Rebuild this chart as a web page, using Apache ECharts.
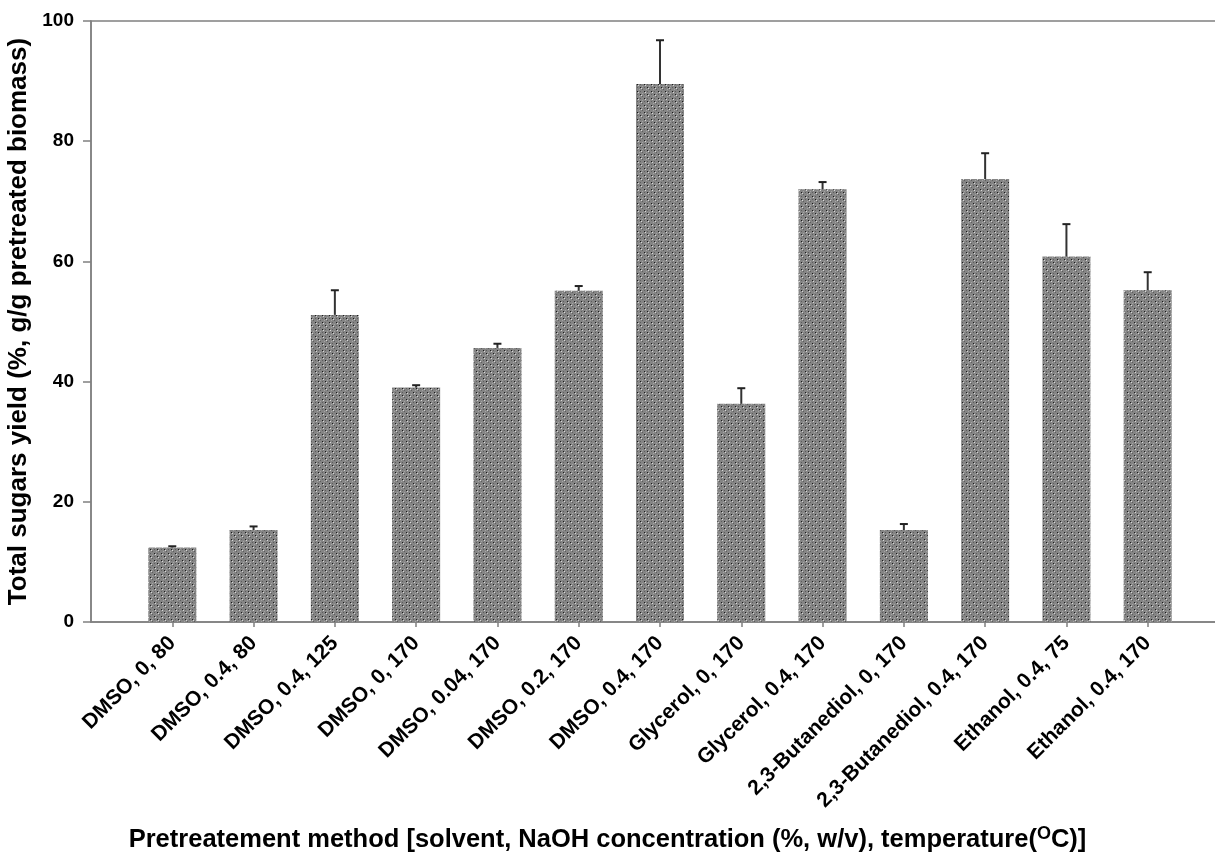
<!DOCTYPE html>
<html>
<head>
<meta charset="utf-8">
<script src="https://cdn.jsdelivr.net/npm/echarts@6/dist/echarts.min.js"></script>
<style>
  html, body { margin: 0; padding: 0; background: #fff; }
  #chart { width: 1215px; height: 860px; }
</style>
</head>
<body>
<div id="chart"></div>
<script>
// Pretreatment conditions: solvent, NaOH concentration (%, w/v), temperature (°C)
const categories = [
  'DMSO, 0, 80', 'DMSO, 0.4, 80', 'DMSO, 0.4, 125', 'DMSO, 0, 170',
  'DMSO, 0.04, 170', 'DMSO, 0.2, 170', 'DMSO, 0.4, 170', 'Glycerol, 0, 170',
  'Glycerol, 0.4, 170', '2,3-Butanediol, 0, 170', '2,3-Butanediol, 0.4, 170',
  'Ethanol, 0.4, 75', 'Ethanol, 0.4, 170'
];
// Total sugars yield (%) and its standard deviation
const yieldValues = [12.4, 15.3, 51.1, 39.0, 45.6, 55.1, 89.5, 36.3, 72.0, 15.3, 73.7, 60.8, 55.2];
const yieldErrors = [0.2, 0.6, 4.1, 0.4, 0.7, 0.8, 7.3, 2.6, 1.2, 1.0, 4.3, 5.4, 3.0];
const yTicks = [0, 20, 40, 60, 80, 100];

// Stippled grey fill for the bars
function stipple() {
  const n = 7;
  const c = document.createElement('canvas');
  c.width = n; c.height = n;
  const g = c.getContext('2d');
  g.fillStyle = '#858585';
  g.fillRect(0, 0, n, n);
  // dark dots
  g.fillStyle = '#1a1a1a';
  g.fillRect(0, 0, 1, 1);
  g.fillRect(3, 3, 1, 1);
  // light specks next to them
  g.fillStyle = '#d8d8d8';
  g.fillRect(1, 1, 1, 1);
  g.fillRect(4, 4, 1, 1);
  // mid-grey pattern dots
  g.fillStyle = '#5e5e5e';
  g.fillRect(3, 0, 1, 1);
  g.fillRect(0, 3, 1, 1);
  g.fillRect(5, 5, 1, 1);
  g.fillStyle = '#a4a4a4';
  g.fillRect(5, 2, 1, 1);
  g.fillRect(2, 5, 1, 1);
  return c;
}

// Category slots with an empty slot at each end of the axis
const axisSlots = [''].concat(categories, ['']);
const barData = yieldValues.map((v, i) => [i + 1, v]);
const errData = yieldValues.map((v, i) => [i + 1, v, yieldErrors[i]]);

const chart = echarts.init(document.getElementById('chart'), null, { renderer: 'canvas' });
const font = 'Arial, "Liberation Sans", sans-serif';

chart.setOption({
  animation: false,
  backgroundColor: '#ffffff',
  grid: {
    left: 91, width: 1138, top: 21, height: 601,
    outerBoundsMode: 'none', containLabel: false,
    show: true, borderColor: '#808080', borderWidth: 1.5, backgroundColor: 'transparent'
  },
  xAxis: {
    type: 'category',
    data: axisSlots,
    boundaryGap: false,
    axisLine: { lineStyle: { color: '#808080', width: 1.5 } },
    axisTick: {
      length: 5, lineStyle: { color: '#808080', width: 1.5 },
      interval: (idx, val) => val !== ''
    },
    axisLabel: {
      interval: 0, rotate: 45, margin: 18,
      color: '#000', fontFamily: font, fontWeight: 'bold', fontSize: 21
    },
    splitLine: { show: false }
  },
  yAxis: {
    type: 'value',
    min: 0, max: 100, interval: 20,
    name: 'Total sugars yield (%, g/g pretreated biomass)',
    nameLocation: 'middle', nameRotate: 90, nameGap: 53,
    nameTextStyle: { color: '#000', fontFamily: font, fontWeight: 'bold', fontSize: 26 },
    axisLine: { show: true, lineStyle: { color: '#808080', width: 1.5 } },
    axisTick: { show: true, inside: false, length: 8, lineStyle: { color: '#808080', width: 1.5 } },
    axisLabel: {
      margin: 17, color: '#000', fontFamily: font, fontWeight: 'bold', fontSize: 19,
      customValues: yTicks
    },
    splitLine: { show: false }
  },
  graphic: [{
    type: 'text',
    left: 'center',
    top: 825,
    style: {
      text: 'Pretreatement method [solvent, NaOH concentration (%, w/v), temperature({sup|O}C)]',
      fill: '#000',
      font: 'bold 25.5px ' + font,
      rich: {
        sup: { fontSize: 18, fontWeight: 'bold', fontFamily: font, verticalAlign: 'top', padding: [0, 0, 12, 0] }
      }
    }
  }],
  series: [
    {
      type: 'bar',
      data: barData,
      barWidth: 48,
      itemStyle: { color: { image: stipple(), repeat: 'repeat' } },
      z: 2
    },
    {
      type: 'custom',
      data: errData,
      z: 3,
      renderItem: function (params, api) {
        const x = api.value(0);
        const v = api.value(1);
        const e = api.value(2);
        const base = api.coord([x, v]);
        const top = api.coord([x, v + e]);
        const half = 4;
        return {
          type: 'group',
          children: [
            { type: 'line', shape: { x1: base[0], y1: base[1], x2: top[0], y2: top[1] },
              style: { stroke: '#333', lineWidth: 2 } },
            { type: 'line', shape: { x1: top[0] - half, y1: top[1], x2: top[0] + half, y2: top[1] },
              style: { stroke: '#222', lineWidth: 2 } }
          ]
        };
      }
    }
  ]
});
</script>
</body>
</html>
